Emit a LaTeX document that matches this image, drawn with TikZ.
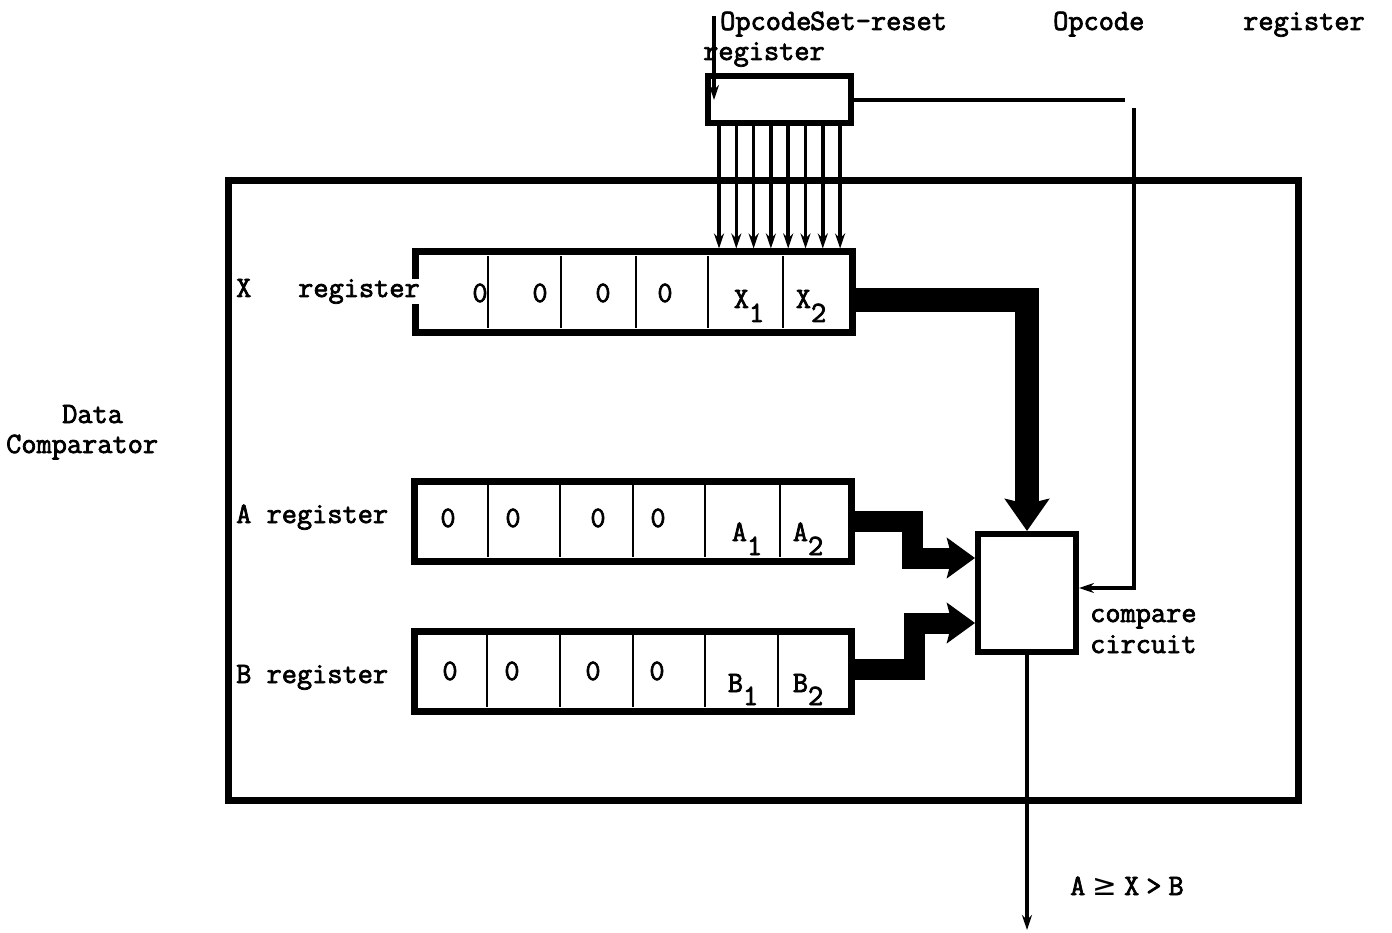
\documentclass[tikz,border=0pt]{standalone}
\usepackage{fontspec}
\newfontfamily\tw{Latin Modern Mono}[FakeBold=2.5]
\newfontfamily\symf{DejaVu Sans}
\usetikzlibrary{arrows.meta}
\begin{document}
\begin{tikzpicture}[x=1pt,y=-1pt,
  txt/.style={font=\tw\fontsize{29.5}{32}\selectfont, inner sep=0pt},
  regbox/.style={draw, line width=7pt, minimum width=437pt, minimum height=80pt, inner sep=0pt},
  framebox/.style={draw, line width=7pt, minimum width=1070pt, minimum height=619pt, inner sep=0pt},
  cmpbox/.style={draw, line width=6pt, minimum width=98pt, minimum height=118pt, inner sep=0pt},
  opbox/.style={draw, line width=6pt, minimum width=143pt, minimum height=47pt, inner sep=0pt},
  divider/.style={line width=2.5pt},
  sig/.style={line width=3.5pt, -{Stealth[length=15pt,width=10pt]}},
  wire/.style={line width=3.5pt},
  busx/.style={line width=24pt, -{Stealth[length=32pt,width=44pt,inset=5pt]}},
  busab/.style={line width=21pt, -{Stealth[length=28pt,width=40pt,inset=5pt]}}
]
\useasboundingbox (0,0) rectangle (1392,933);

% outer frame
\node[framebox] (frame) at (763,490.5) {};

% opcode set-reset register
\node[opbox] (opreg) at (779,100) {};

% registers
\node[regbox] (xreg) at (633.5,292) {};
\node[regbox] (areg) at (632.5,521) {};
\node[regbox] (breg) at (632.5,671) {};

% compare circuit
\node[cmpbox] (cmp) at (1027,593) {};

% cell dividers
\foreach \xx in {488,561,636,708,783}
  \draw[divider] (\xx,256) -- (\xx,328);
\foreach \xx in {488,560,633,705,780}
  \draw[divider] (\xx,485) -- (\xx,557);
\foreach \xx in {487,560,633,705,778}
  \draw[divider] (\xx,635) -- (\xx,707);

% labels
\node[txt, anchor=base west] (lopc) at (720,30) {Opcode};
\node[txt, anchor=base west] (lset) at (810,30) {Set-reset};
\node[txt, anchor=base west] (lreg1) at (703,60) {register};
\node[txt, anchor=base west] (lopc2) at (1053,30) {Opcode};
\node[txt, anchor=base west] (lreg2) at (1243,30) {register};

\node[txt, anchor=base west] (dl1) at (62,423) {Data};
\node[txt, anchor=base west] (dl2) at (6,453) {Comparator};

\node[txt, anchor=base west] (xl) at (236,297) {X};
\node[txt, anchor=base west, fill=white] (xl2) at (298,297) {register};
\node[txt, anchor=base west] (al) at (236,523) {A register};
\node[txt, anchor=base west] (bl) at (236,683) {B register};

% cell contents
\node[txt, anchor=base] (x0a) at (480,302) {0};
\node[txt, anchor=base] (x0b) at (540,302) {0};
\node[txt, anchor=base] (x0c) at (603,302) {0};
\node[txt, anchor=base] (x0d) at (665,302) {0};
\node[txt, anchor=base] (x1) at (749,308) {X\raisebox{-14pt}{1}};
\node[txt, anchor=base] (x2) at (811,308) {X\raisebox{-14pt}{2}};

\node[txt, anchor=base] (a0a) at (448,527) {0};
\node[txt, anchor=base] (a0b) at (513,527) {0};
\node[txt, anchor=base] (a0c) at (598,527) {0};
\node[txt, anchor=base] (a0d) at (658,527) {0};
\node[txt, anchor=base] (a1) at (747,541) {A\raisebox{-14pt}{1}};
\node[txt, anchor=base] (a2) at (808,541) {A\raisebox{-14pt}{2}};

\node[txt, anchor=base] (b0a) at (450,680) {0};
\node[txt, anchor=base] (b0b) at (512,680) {0};
\node[txt, anchor=base] (b0c) at (593,680) {0};
\node[txt, anchor=base] (b0d) at (657,680) {0};
\node[txt, anchor=base] (b1) at (743,692) {B\raisebox{-13pt}{1}};
\node[txt, anchor=base] (b2) at (808,692) {B\raisebox{-13pt}{2}};

\node[txt, anchor=base west] (cl1) at (1090,622) {compare};
\node[txt, anchor=base west] (cl2) at (1090,653) {circuit};

\node[txt, anchor=base west] (res) at (1070,895) {A\hspace{7pt}{\symf ≥}\hspace{7pt}X\hspace{7pt}>\hspace{7pt}B};

% opcode label arrow into register
\coordinate (oplab) at (714,16);
\draw[sig] (oplab) -- (oplab |- opreg.center);

% eight bit lines
\foreach \i in {0,...,7}
  \draw[sig] ([xshift={14.5+17.3*\i}]opreg.south west) -- ([xshift={14.5+17.3*\i}]opreg.south west |- xreg.north);

% opcode line to compare circuit
\coordinate (opend) at (1125,100);
\draw[wire] (opreg.east) -- (opend);
\coordinate (optop) at (1134,108);
\draw[sig] (optop) |- ([yshift=5pt]cmp.east);

% data buses
\draw[busx] ([yshift=-8pt]xreg.east) -| (cmp.north);
\draw[busab] (areg.east) -- ++(58,0) |- ([yshift=35pt]cmp.west);
\draw[busab] ([yshift=2pt]breg.east) -- ++(60,0) |- ([yshift=-30pt]cmp.west);

% output
\coordinate (out) at (1027,930);
\draw[sig] (cmp.south) -- (out);
\end{tikzpicture}
\end{document}
